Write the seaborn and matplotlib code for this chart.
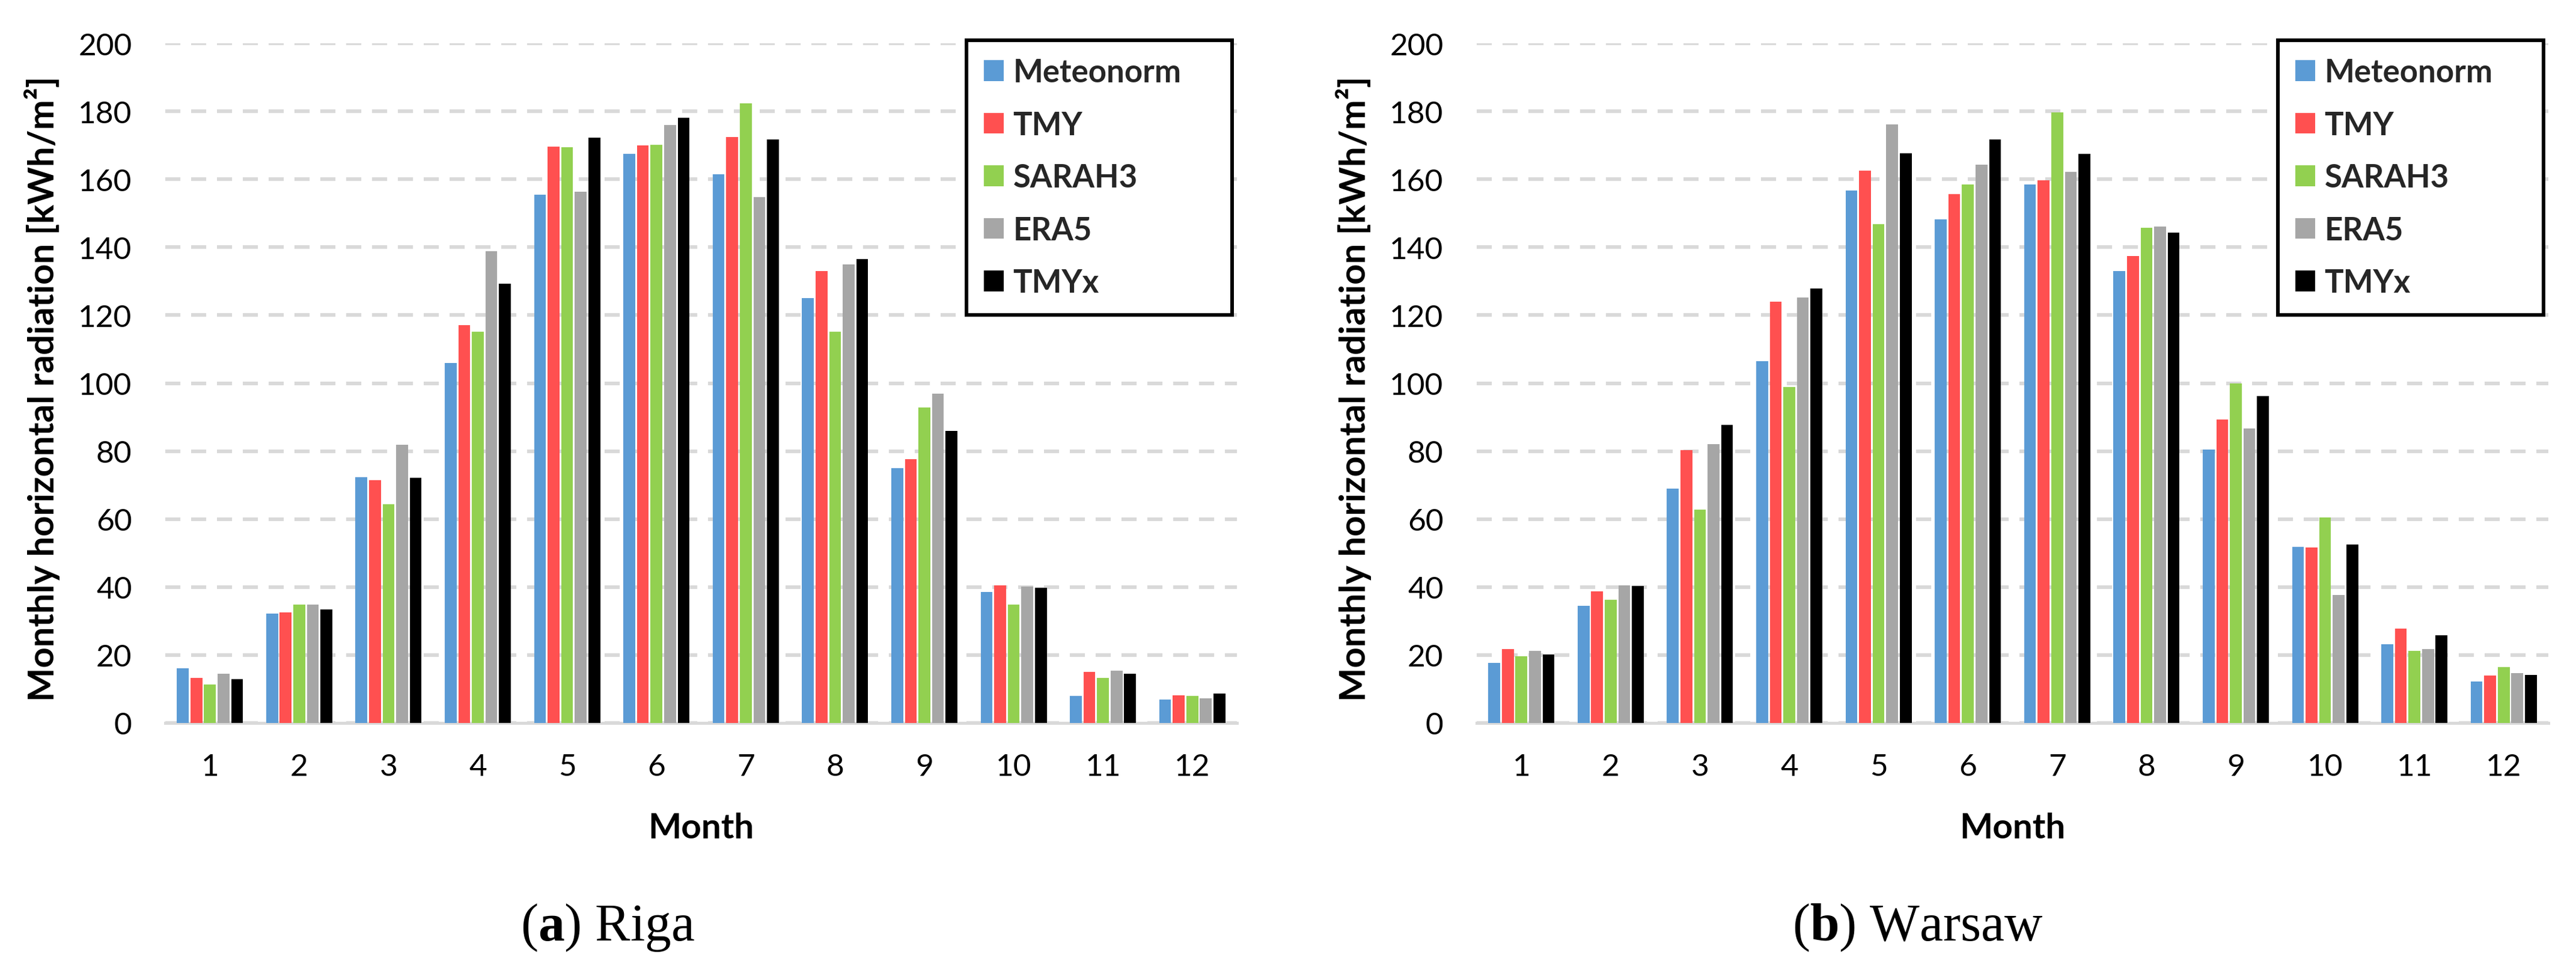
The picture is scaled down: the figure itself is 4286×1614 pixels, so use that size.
import numpy as np
import pandas as pd
import matplotlib
matplotlib.use("Agg")
import matplotlib.pyplot as plt
import seaborn as sns

# ---------------- data ----------------
months = ["1", "2", "3", "4", "5", "6", "7", "8", "9", "10", "11", "12"]
sources = ["Meteonorm", "TMY", "SARAH3", "ERA5", "TMYx"]
colors = ["#5B9BD5", "#FF5050", "#92D050", "#A6A6A6", "#000000"]

riga_meteonorm = [16.1, 32.1, 72.4, 106.0, 155.4, 167.4, 161.4, 125.1, 74.9, 38.6, 7.9, 6.9]
riga_tmy       = [13.2, 32.6, 71.4, 117.0, 169.5, 169.9, 172.4, 133.0, 77.7, 40.5, 15.0, 8.1]
riga_sarah3    = [11.3, 34.8, 64.4, 115.2, 169.4, 170.1, 182.3, 115.1, 92.8, 34.8, 13.2, 7.9]
riga_era5      = [14.5, 34.8, 81.8, 138.9, 156.3, 176.0, 154.8, 134.9, 96.9, 40.2, 15.4, 7.3]
riga_tmyx      = [12.9, 33.4, 72.1, 129.2, 172.3, 178.0, 171.7, 136.5, 85.9, 39.7, 14.5, 8.7]

warsaw_meteonorm = [17.6, 34.5, 68.9, 106.5, 156.6, 148.2, 158.5, 133.0, 80.5, 51.9, 23.2, 12.2]
warsaw_tmy       = [21.7, 38.7, 80.2, 123.9, 162.5, 155.7, 159.7, 137.4, 89.3, 51.6, 27.7, 13.9]
warsaw_sarah3    = [19.6, 36.2, 62.8, 98.8, 146.8, 158.5, 179.6, 145.7, 99.9, 60.4, 21.3, 16.4]
warsaw_era5      = [21.3, 40.5, 82.0, 125.2, 176.2, 164.2, 162.2, 146.0, 86.7, 37.7, 21.8, 14.7]
warsaw_tmyx      = [20.1, 40.3, 87.7, 127.9, 167.7, 171.7, 167.4, 144.3, 96.2, 52.5, 25.8, 14.1]

yticks = [0, 20, 40, 60, 80, 100, 120, 140, 160, 180, 200]
ylabel = "Monthly horizontal radiation [kWh/m\u00b2]"
xlabel = "Month"
captions = [r"($\mathbf{a}$) Riga", r"($\mathbf{b}$) Warsaw"]


def long_frame(series_list):
    rows = []
    for src, vals in zip(sources, series_list):
        for m, v in zip(months, vals):
            rows.append({"Month": m, "Source": src, "Value": v})
    return pd.DataFrame(rows)


df_riga = long_frame([riga_meteonorm, riga_tmy, riga_sarah3, riga_era5, riga_tmyx])
df_warsaw = long_frame([warsaw_meteonorm, warsaw_tmy, warsaw_sarah3, warsaw_era5, warsaw_tmyx])

# ---------------- style ----------------
sns.set_theme(style="white")
plt.rcParams["font.family"] = ["Lato", "DejaVu Sans"]
plt.rcParams["mathtext.fontset"] = "custom"
plt.rcParams["mathtext.rm"] = "Liberation Serif"
plt.rcParams["mathtext.bf"] = "Liberation Serif:bold"

W, H = 4286, 1615
fig = plt.figure(figsize=(W / 100, H / 100), dpi=100)

ax_top_px, ax_bot_px = 73, 1204
ax_h = (ax_bot_px - ax_top_px) / H
ax_y = (H - ax_bot_px) / H
ax_w_px = 1783
axes = [
    fig.add_axes([275 / W, ax_y, ax_w_px / W, ax_h]),
    fig.add_axes([2457 / W, ax_y, ax_w_px / W, ax_h]),
]

grid_col = "#D9D9D9"
for ax, df, cap, capx in zip(axes, [df_riga, df_warsaw], captions, [1011 / W, 3191 / W]):
    sns.barplot(data=df, x="Month", y="Value", hue="Source", order=months,
                hue_order=sources, palette=colors, width=0.76, gap=0.13,
                saturation=1, linewidth=0, ax=ax, errorbar=None)
    ax.set_xlim(-0.5, 11.5)
    ax.set_ylim(0, 200)
    ax.set_yticks(yticks)
    ax.set_axisbelow(True)
    ax.yaxis.grid(True, color=grid_col, linewidth=4.3, linestyle=(0, (4.2, 3.0)))
    ax.xaxis.grid(False)
    for s in ["top", "right", "left"]:
        ax.spines[s].set_visible(False)
    ax.spines["bottom"].set_color(grid_col)
    ax.spines["bottom"].set_linewidth(3.6)
    ax.spines["bottom"].set_zorder(0.5)
    ax.tick_params(axis="both", length=0, labelsize=37, colors="black")
    ax.tick_params(axis="y", pad=40)
    ax.tick_params(axis="x", pad=36)
    ax.set_xlabel(xlabel, fontsize=42, fontweight="bold", color="black")
    ax.set_ylabel(ylabel, fontsize=43, fontweight="bold", color="black")
    ax.xaxis.set_label_coords(0.5, (ax_bot_px - 1352) / (ax_bot_px - ax_top_px))
    ax.yaxis.set_label_coords((100 - 275) / ax_w_px, 0.4925)

    handles, labels = ax.get_legend_handles_labels()
    leg = ax.legend(handles, labels, loc="upper left",
                    bbox_to_anchor=(0.7475, 0.0, 0.248, (ax_bot_px - 68) / (ax_bot_px - ax_top_px)),
                    mode="expand", frameon=True, fancybox=False, framealpha=1,
                    edgecolor="black", prop={"family": "Lato", "weight": "bold", "size": 38},
                    handlelength=0.62, handleheight=0.62, handletextpad=0.3,
                    borderpad=0.55, labelspacing=0.73, borderaxespad=0)
    leg.get_frame().set_linewidth(4.3)

    fig.text(capx, (H - 1565) / H, cap, fontsize=63, ha="center", va="baseline",
             family="Liberation Serif", color="black")

fig.savefig("out.png", dpi=100, facecolor="white")
